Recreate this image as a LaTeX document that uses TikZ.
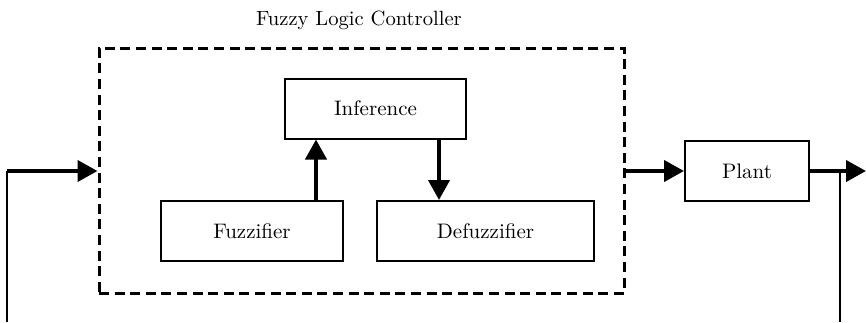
\documentclass[tikz,border=0pt]{standalone}
\usetikzlibrary{arrows.meta}

\begin{document}
\begin{tikzpicture}[x=0.5pt, y=-0.5pt,
  blockbox/.style={draw=black, line width=1pt, fill=white, font=\fontsize{10.5}{12}\selectfont, minimum height=30pt, inner sep=0pt},
  flcbox/.style={draw=black, line width=1.5pt, dash pattern=on 5pt off 2.8pt, minimum width=262.5pt, minimum height=122.5pt, inner sep=0pt},
  sig/.style={line width=2pt, -{Triangle[length=10pt, width=10.5pt]}},
  fb/.style={line width=1.1pt},
  lbl/.style={font=\fontsize{10.3}{12}\selectfont}
]
\useasboundingbox (0,0) rectangle (866,322);

% Controller frame
\node[flcbox] (FLC) at (361.5,170.5) {};
\node[lbl] (title) at (359,20) {Fuzzy Logic Controller};

% Blocks
\node[blockbox, minimum width=90.5pt] (Inf) at (375.5,108.5) {Inference};
\node[blockbox, minimum width=91pt] (Fuz) at (252,231) {Fuzzifier};
\node[blockbox, minimum width=108.5pt] (Defuz) at (485.5,231) {Defuzzifier};
\node[blockbox, minimum width=62pt] (Plant) at (747,171) {Plant};

% Loop coordinates
\coordinate (inL) at (7,171);
\coordinate (inLb) at (7,322);
\coordinate (outR) at (866,171);
\coordinate (fbR) at (840,171);
\coordinate (fbRb) at (840,322);
\coordinate (upx) at (316,0);
\coordinate (downx) at (439,0);

% Inner arrows
\draw[sig] (upx |- Fuz.north) -- (upx |- Inf.south);
\draw[sig] (downx |- Inf.south) -- (downx |- Defuz.north);

% Main path
\draw[fb] (inLb) -- (inL);
\draw[sig] (inL) -- (inL -| FLC.west);
\draw[sig] (FLC.east |- Plant.west) -- (Plant.west);
\draw[sig] (Plant.east) -- (outR);
\draw[fb] (fbRb) -- (fbR);
\end{tikzpicture}
\end{document}
